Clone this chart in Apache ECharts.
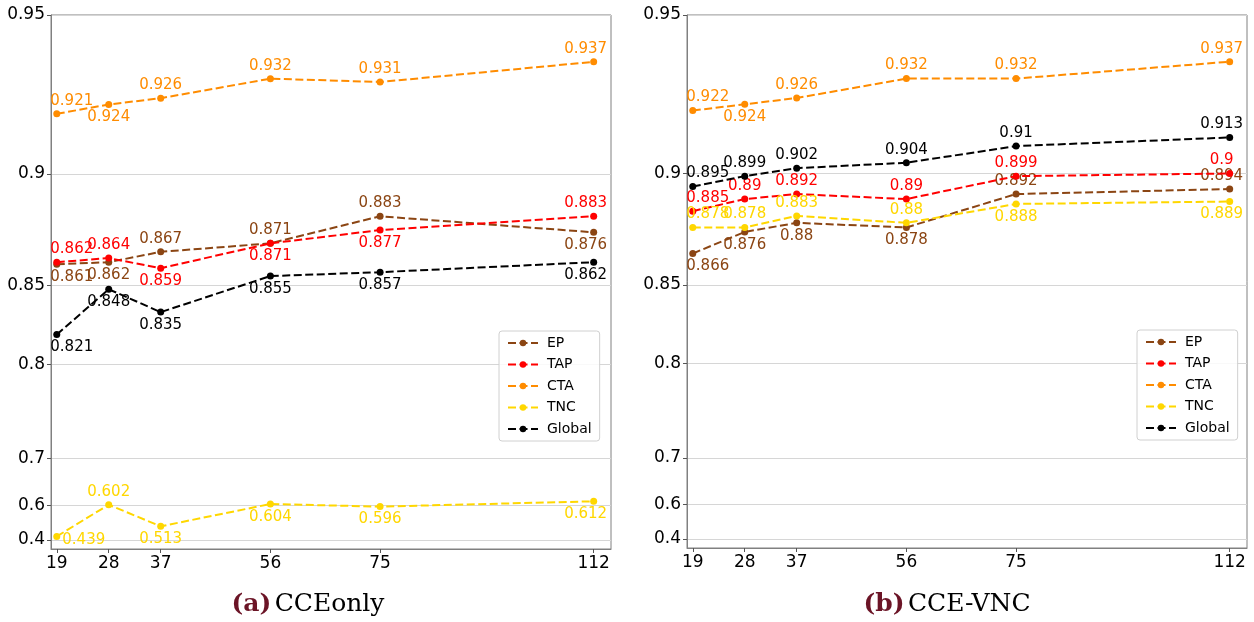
<!DOCTYPE html>
<html><head><meta charset="utf-8">
<script src="https://cdn.jsdelivr.net/npm/echarts@6/dist/echarts.min.js"></script>
<style>html,body{margin:0;padding:0;background:#fff}#c{width:1254px;height:622px}</style>
</head><body><div id="c"></div>
<script>
// ---- data ----
const xValues = [19, 28, 37, 56, 75, 112];
const yTickValues = [0.4, 0.6, 0.7, 0.8, 0.85, 0.9, 0.95];
const seriesNames = ['EP', 'TAP', 'CTA', 'TNC', 'Global'];
const cceOnlyEP     = [0.861, 0.862, 0.867, 0.871, 0.883, 0.876];
const cceOnlyTAP    = [0.862, 0.864, 0.859, 0.871, 0.877, 0.883];
const cceOnlyCTA    = [0.921, 0.924, 0.926, 0.932, 0.931, 0.937];
const cceOnlyTNC    = [0.439, 0.602, 0.513, 0.604, 0.596, 0.612];
const cceOnlyGlobal = [0.821, 0.848, 0.835, 0.855, 0.857, 0.862];
const cceVncEP      = [0.866, 0.876, 0.880, 0.878, 0.892, 0.894];
const cceVncTAP     = [0.885, 0.890, 0.892, 0.890, 0.899, 0.900];
const cceVncCTA     = [0.922, 0.924, 0.926, 0.932, 0.932, 0.937];
const cceVncTNC     = [0.878, 0.878, 0.883, 0.880, 0.888, 0.889];
const cceVncGlobal  = [0.895, 0.899, 0.902, 0.904, 0.910, 0.913];
const panelTags   = ['(a)', '(b)'];
const panelTitles = ['CCEonly', 'CCE-VNC'];

// ---- styles ----
const colors = {EP: '#8B4513', TAP: '#FF0000', CTA: '#FF8C00', TNC: '#FFD700', Global: '#000000'};
// a = label above point, b = below
const labelSides = [
  {EP: 'bbaaab', TAP: 'aabbba', CTA: 'abaaaa', TNC: 'babbbb', Global: 'bbbbbb'},
  {EP: 'bbbbaa', TAP: 'aaaaaa', CTA: 'abaaaa', TNC: 'aaaabb', Global: 'aaaaaa'}
];
const panelValues = [
  {EP: cceOnlyEP, TAP: cceOnlyTAP, CTA: cceOnlyCTA, TNC: cceOnlyTNC, Global: cceOnlyGlobal},
  {EP: cceVncEP, TAP: cceVncTAP, CTA: cceVncCTA, TNC: cceVncTNC, Global: cceVncGlobal}
];
const grids = [
  {left: 51, right: 1254 - 611, top: 15, bottom: 622 - 549},
  {left: 687, right: 1254 - 1247, top: 15, bottom: 622 - 548}
];
const legendPos = [{left: 499, top: 331}, {left: 1137, top: 330}];
const captionX = [308, 947];

// y scale: 10^(k v)
const K = 3.05;
const tf = v => Math.pow(10, K * v);
const inv = t => Math.log10(t) / K;
const FONT = 'DejaVu Sans';

const xAxes = [], yAxes = [], series = [], legends = [], graphics = [];
for (let p = 0; p < 2; p++) {
  xAxes.push({
    type: 'value', gridIndex: p, min: 18, max: 115,
    axisLine: {show: true, lineStyle: {color: '#808080', width: 1}},
    axisTick: {show: true, length: 4, lineStyle: {color: '#555'}, customValues: xValues},
    axisLabel: {customValues: xValues, fontSize: 17, fontFamily: FONT, color: '#000', margin: 6},
    splitLine: {show: false}
  });
  yAxes.push({
    type: 'value', gridIndex: p, min: tf(0.17), max: tf(0.95),
    axisLine: {show: true, lineStyle: {color: '#808080', width: 1}},
    axisTick: {show: true, length: 4, lineStyle: {color: '#555'}, customValues: yTickValues.map(tf)},
    axisLabel: {customValues: yTickValues.map(tf), fontSize: 17, fontFamily: FONT, color: '#000', margin: 6,
      showMinLabel: true, showMaxLabel: true,
      formatter: t => String(+inv(t).toFixed(2))},
    splitLine: {show: true, lineStyle: {color: '#d6d6d6', width: 1}}
  });
  seriesNames.forEach((name, si) => {
    const vals = panelValues[p][name];
    const sides = labelSides[p][name];
    const shifts = vals.map((v, i) => {
      let dx = 0;
      if (i === 0) dx = 15;
      if (i === vals.length - 1) dx = -8;
      let dy = sides[i] === 'a' ? -13 : 13;
      if (p === 0 && name === 'TNC' && i === 0) { dx = 27; dy = 4; }
      return {dx: dx, dy: dy};
    });
    const data = vals.map((v, i) => [xValues[i], tf(v), v]);
    series.push({
      type: 'line', name: name, xAxisIndex: p, yAxisIndex: p, data: data,
      symbol: 'circle', symbolSize: 7, z: 2 + si,
      lineStyle: {color: colors[name], width: 2, type: [8, 3.5]},
      itemStyle: {color: colors[name]},
      label: {show: true, position: 'inside', color: colors[name], fontSize: 15, fontFamily: FONT,
        formatter: q => String(q.value[2])},
      labelLayout: prm => shifts[prm.dataIndex],
      emphasis: {disabled: true},
      animation: false
    });
  });
  legends.push({
    orient: 'vertical', left: legendPos[p].left, top: legendPos[p].top,
    itemWidth: 30, itemHeight: 8, itemGap: 7.5,
    padding: [5, 8, 5, 8],
    borderColor: '#d0d0d0', borderWidth: 1, borderRadius: 3,
    backgroundColor: 'rgba(255,255,255,0.85)',
    textStyle: {fontSize: 14, fontFamily: FONT, color: '#000', padding: [0, 0, 0, 4]},
    data: seriesNames
  });
  graphics.push({
    type: 'text', x: captionX[p], y: 604,
    style: {
      text: '{a|' + panelTags[p] + '} {b|' + panelTitles[p] + '}',
      align: 'center', verticalAlign: 'middle',
      rich: {
        a: {fontFamily: 'DejaVu Serif', fontWeight: 'bold', fontSize: 25, fill: '#6b1426', color: '#6b1426'},
        b: {fontFamily: 'DejaVu Serif', fontSize: 25, fill: '#000', color: '#000'}
      }
    }
  });
}

const chart = echarts.init(document.getElementById('c'), null, {renderer: 'canvas'});
chart.setOption({
  animation: false,
  backgroundColor: '#fff',
  grid: grids.map(g => Object.assign({show: true, borderColor: '#808080', borderWidth: 1, backgroundColor: 'transparent'}, g)),
  xAxis: xAxes, yAxis: yAxes,
  legend: legends,
  series: series,
  graphic: graphics
});
</script></body></html>
